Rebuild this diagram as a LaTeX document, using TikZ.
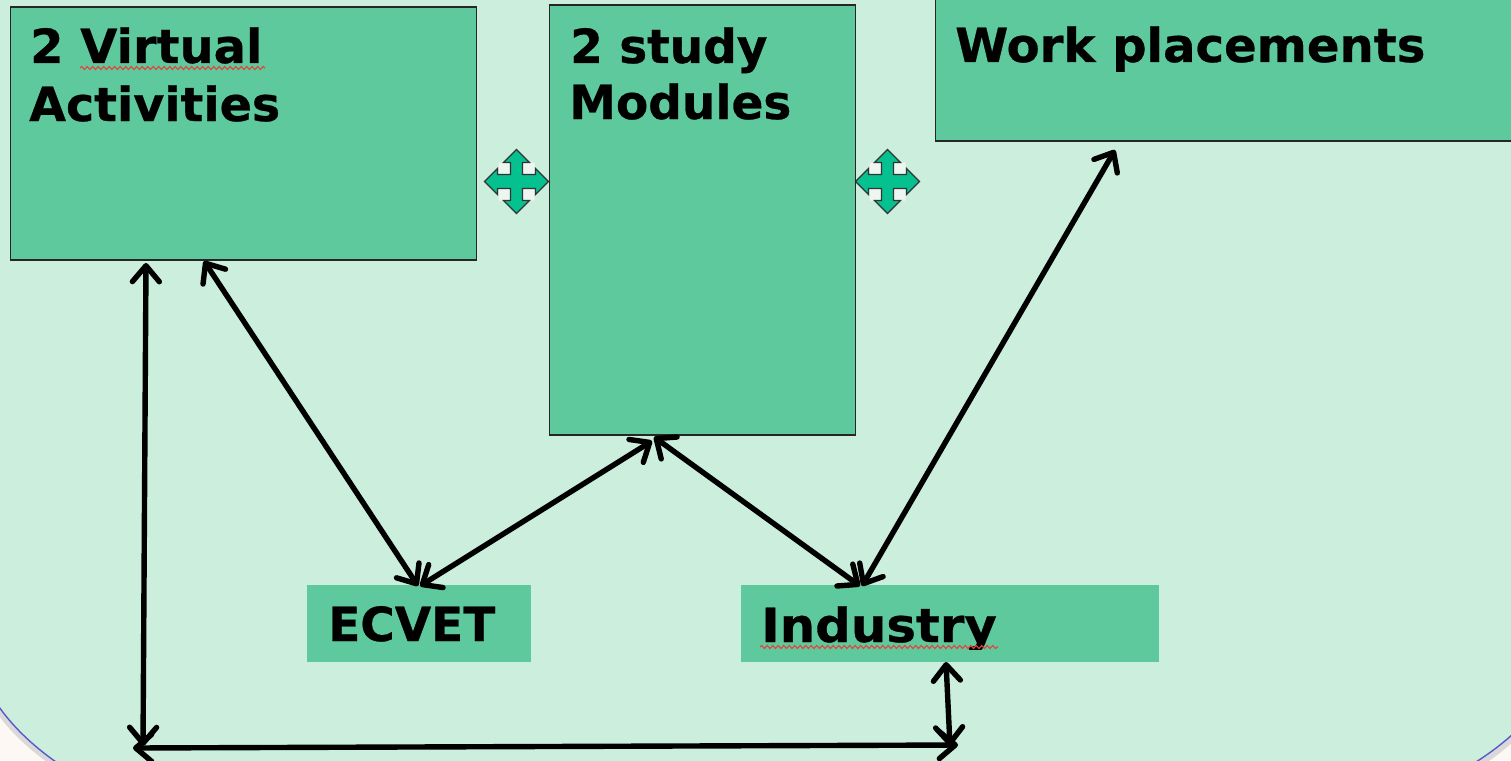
\documentclass[tikz,border=0pt]{standalone}
\usepackage{fontspec}
\setmainfont[BoldFeatures={FakeBold=0.6}]{DejaVu Sans}
\usetikzlibrary{arrows.meta,decorations.pathmorphing}
\definecolor{pagebg}{HTML}{FDF8F3}
\definecolor{panelbg}{HTML}{CBEEDD}
\definecolor{panelrim}{HTML}{5A58CC}
\definecolor{boxfill}{HTML}{5FC99E}
\definecolor{quadfill}{HTML}{04C18F}
\definecolor{notch}{HTML}{EEF6F1}
\definecolor{squiggle}{HTML}{E8403A}
\tikzset{
  x=1pt,y=-1pt,
  outlined/.style={draw=black!85,line width=1.6pt,fill=boxfill,rectangle,inner sep=0,outer sep=0,anchor=north west},
  plainbox/.style={fill=boxfill,rectangle,inner sep=0,outer sep=0,anchor=north west},
  boxtext/.style={anchor=base west,inner sep=0,font=\fontsize{47}{47}\selectfont\bfseries,text=black},
  link/.style={draw=black,line width=5.4pt,{Straight Barb[length=16pt,width=27pt,line width=5.4pt,round]}-{Straight Barb[length=16pt,width=27pt,line width=5.4pt,round]}},
  spell/.style={draw=squiggle,line width=1.1pt,decorate,decoration={snake,amplitude=1.5pt,segment length=5.5pt}},
  quad/.style={draw=black!80,line width=1.2pt,fill=quadfill,line join=miter}
}
\newcommand{\quadarrow}[2]{%
  \begin{scope}[shift={(#1,#2)}]
    \fill[notch] (-18,-19) rectangle (-6,-7) (6,-19) rectangle (18,-7)
                 (-18,7) rectangle (-6,19) (6,7) rectangle (18,19);
    \draw[quad] (0,-32) -- (13,-19) -- (6,-19) -- (6,-7) -- (19,-7) -- (19,-13)
      -- (32,0) -- (19,13) -- (19,7) -- (6,7) -- (6,19) -- (13,19)
      -- (0,32) -- (-13,19) -- (-6,19) -- (-6,7) -- (-19,7) -- (-19,13)
      -- (-32,0) -- (-19,-13) -- (-19,-7) -- (-6,-7) -- (-6,-19) -- (-13,-19) -- cycle;
  \end{scope}}
\begin{document}
\begin{tikzpicture}
\useasboundingbox (0,0) rectangle (1511,760);
\clip (0,0) rectangle (1511,760);
\fill[pagebg] (0,0) rectangle (1511,760);
% panel with rounded lower corners
\draw[black!15,line width=6pt] (-3,708) .. controls (12,730) and (32,748) .. (56,765)
   (1478,765) .. controls (1490,757) and (1502,748) .. (1514,737);
\draw[panelrim,fill=panelbg,line width=1.4pt] (-3,704) .. controls (12,726) and (32,745) .. (56,762)
   -- (1476,762) .. controls (1490,753) and (1502,744) .. (1514,733) -- (1514,-3) -- (-3,-3) -- cycle;
% boxes
\node[outlined,minimum width=466pt,minimum height=253pt] (virtual) at (10.5,7) {};
\node[outlined,minimum width=306pt,minimum height=430pt] (study) at (549.5,5) {};
\node[outlined,minimum width=600pt,minimum height=151pt] (work) at (935.5,-10) {};
\node[plainbox,minimum width=224pt,minimum height=77pt] (ecvet) at (307,585) {};
\node[plainbox,minimum width=418pt,minimum height=77pt] (industry) at (741,585) {};
% texts
\node[boxtext,xscale=1.02] (t1) at (30,63) {2 Virtual};
\node[boxtext,xscale=1.012] (t2) at (29,121) {Activities};
\node[boxtext] (t3) at (570,63) {2 study};
\node[boxtext] (t4) at (569,119) {Modules};
\node[boxtext,xscale=1.024] (t5) at (955,62) {Work placements};
\node[boxtext] (t6) at (328,641) {ECVET};
\begin{scope}
  \clip (741,585) rectangle (1159,649);
  \node[boxtext,xscale=1.06] (t7) at (761,642) {Industry};
\end{scope}
% spelling underlines
\draw[spell] (80,68) -- (265,68);
\draw[spell] (760,647) -- (998,647);
% move handles
\quadarrow{516.5}{181.5}
\quadarrow{887.5}{181.5}
% connectors
\coordinate (corner) at (143,746);
\coordinate (elbow) at (958,745);
\draw[link] ([xshift=135.5pt,yshift=-3pt]virtual.south west) -- (corner);
\draw[link] (133,748) -- (elbow);
\draw[link] ([xshift=205pt,yshift=0pt]industry.south west) -- (950,746);
\draw[link] ([xshift=193.5pt,yshift=-1pt]virtual.south west) -- ([xshift=111pt,yshift=-1pt]ecvet.north west);
\draw[link] ([xshift=113pt,yshift=-1pt]ecvet.north west) -- ([xshift=102.5pt,yshift=-6pt]study.south west);
\draw[link] ([xshift=104.5pt,yshift=-2pt]study.south west) -- ([xshift=119pt,yshift=-1pt]industry.north west);
\draw[link] ([xshift=179.5pt,yshift=-9pt]work.south west) -- ([xshift=121pt,yshift=-1pt]industry.north west);
\end{tikzpicture}
\end{document}
